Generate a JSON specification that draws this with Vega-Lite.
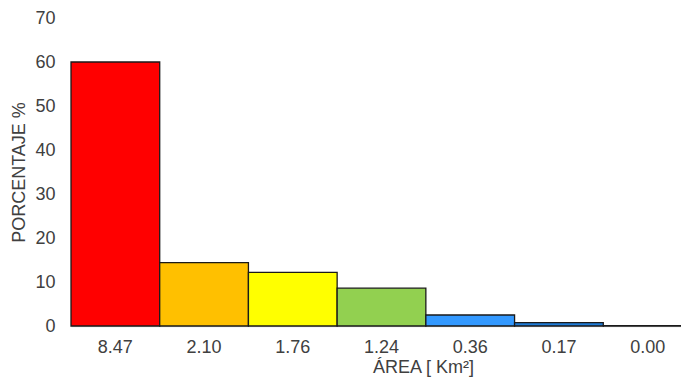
{
  "$schema": "https://vega.github.io/schema/vega-lite/v6.json",
  "autosize": {"type": "none"},
  "padding": {"left": 71, "top": 18, "right": 0, "bottom": 54},
  "width": 621,
  "height": 308,
  "background": "white",
  "config": {"view": {"stroke": null}, "font": "Liberation Sans"},
  "data": {"values": [
    {"area": "8.47", "pct": 60.0, "c": "#FF0000"},
    {"area": "2.10", "pct": 14.4, "c": "#FFC000"},
    {"area": "1.76", "pct": 12.2, "c": "#FFFF00"},
    {"area": "1.24", "pct": 8.6, "c": "#92D050"},
    {"area": "0.36", "pct": 2.5, "c": "#3399FF"},
    {"area": "0.17", "pct": 0.75, "c": "#1F7BD6"},
    {"area": "0.00", "pct": 0.1, "c": "#808080"}
  ]},
  "mark": {"type": "bar", "stroke": "#1a1a1a", "strokeWidth": 1.3},
  "encoding": {
    "x": {"field": "area", "type": "ordinal", "sort": null,
      "scale": {"paddingInner": 0, "paddingOuter": 0},
      "axis": {"title": "ÁREA [ Km²]", "labelAngle": 0, "ticks": false, "domainColor": "#d9d9d9", "domainWidth": 1.5,
        "labelFontSize": 18, "labelColor": "#404040", "labelPadding": 12,
        "titleFontSize": 18, "titleFontWeight": "normal", "titleColor": "#404040", "titlePadding": 2, "titleX": 352}},
    "y": {"field": "pct", "type": "quantitative",
      "scale": {"domain": [0, 70]},
      "axis": {"title": "PORCENTAJE %", "values": [0,10,20,30,40,50,60,70], "grid": false, "domain": false, "ticks": false,
        "labelFontSize": 18, "labelColor": "#404040", "labelPadding": 16,
        "titleFontSize": 18, "titleFontWeight": "normal", "titleColor": "#404040", "titlePadding": 6}},
    "fill": {"field": "c", "type": "nominal", "scale": null, "legend": null}
  }
}
